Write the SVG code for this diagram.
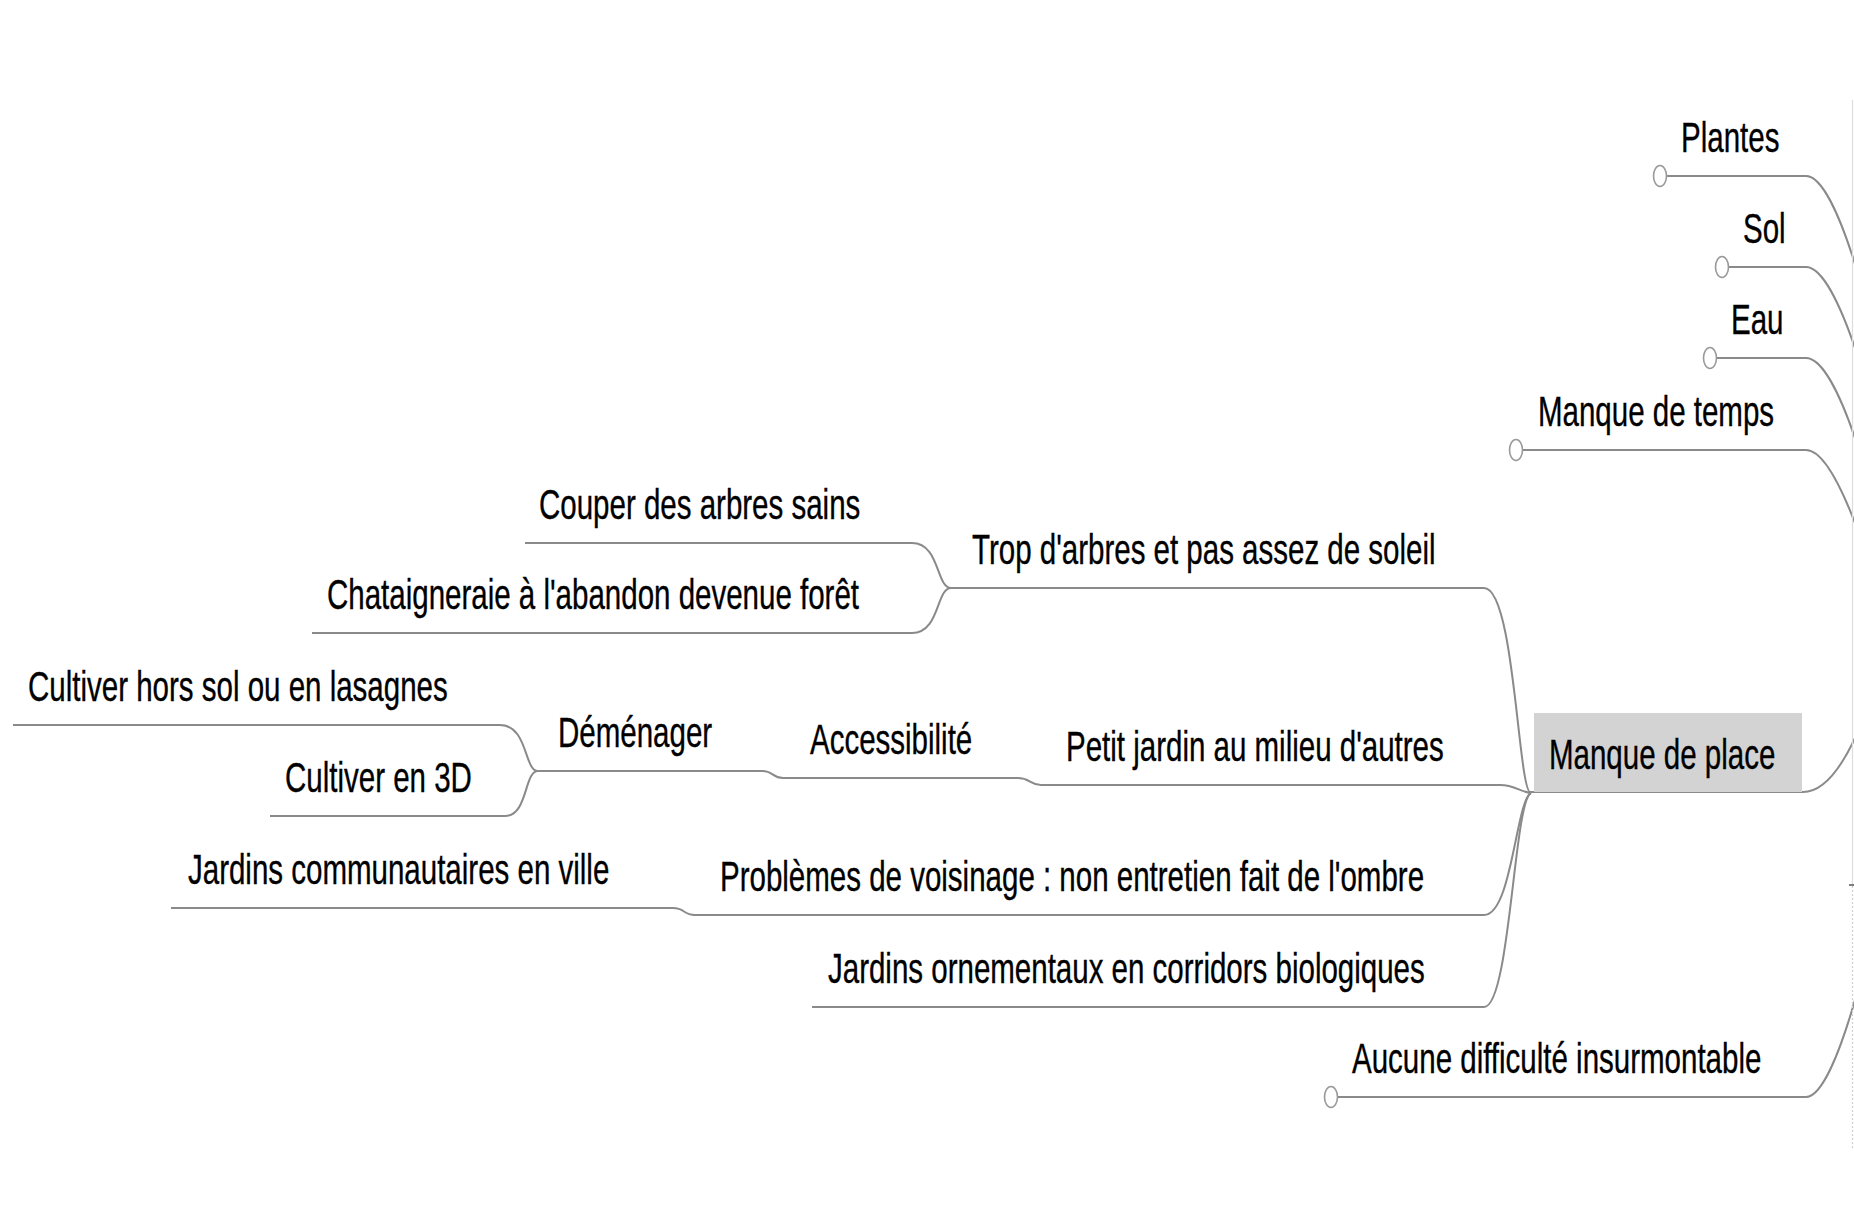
<svg xmlns="http://www.w3.org/2000/svg" width="1854" height="1223" viewBox="0 0 1854 1223">
<style>
  .t { font-family: "Liberation Sans", Arial, sans-serif; font-size: 29.5px; fill: #000; stroke: #000; stroke-width: 0.25; }
  .c { fill: none; stroke: #8a8a8a; stroke-width: 2; }
  .dot { fill: #fff; stroke: #999; stroke-width: 1.6; }
  .box { fill: #d3d3d3; }
</style>
<rect width="1854" height="1223" fill="#fff"/>

<g id="connectors">
  <path class="c" d="M1667 176 H1806 C1822 176 1840 216 1855 264"/>
  <path class="c" d="M1729 267 H1806 C1822 267 1840 304 1855 348"/>
  <path class="c" d="M1717 358 H1806 C1822 358 1840 394 1855 438"/>
  <path class="c" d="M1523 450 H1806 C1822 450 1840 484 1855 523"/>
  <path class="c" d="M1530 792 H1803 C1822 792 1840 770 1855 738"/>
  <path class="c" d="M1338 1097 H1806 C1822 1097 1840 1052 1855 1000"/>
  <path class="c" d="M951 588 H1484 C1515 588 1518 794 1531 793"/>
  <path class="c" d="M1041 785 H1500 C1515 785 1520 792 1531 793"/>
  <path class="c" d="M693 915 H1484 C1512 915 1516 800 1531 793"/>
  <path class="c" d="M812 1007 H1484 C1510 1007 1514 800 1531 793"/>
  <path class="c" d="M525 543 H912 C940 543 936 588 951 588"/>
  <path class="c" d="M312 633 H912 C940 633 936 588 951 588"/>
  <path class="c" d="M783 778 H1018 C1030 778 1030 785 1041 785"/>
  <path class="c" d="M538 771 H762 C774 771 772 778 783 778"/>
  <path class="c" d="M13 725 H500 C528 725 524 771 538 771"/>
  <path class="c" d="M270 816 H505 C528 816 524 771 538 771"/>
  <path class="c" d="M171 908 H673 C685 908 683 915 695 915"/>
</g>

<g id="edge">
  <line x1="1852.5" y1="100" x2="1852.5" y2="884" stroke="#dcdcdc" stroke-width="1.2"/>
  <line x1="1852.5" y1="886" x2="1852.5" y2="1150" stroke="#cfcfcf" stroke-width="1.2" stroke-dasharray="2 2"/>
  <line x1="1849" y1="885" x2="1854" y2="885" stroke="#555" stroke-width="1.5"/>
</g>

<g id="node-plantes">
  <ellipse class="dot" cx="1660" cy="176" rx="6.5" ry="10.5"/>
  <text class="t" transform="translate(1681 152) scale(1 1.47)">Plantes</text>
</g>
<g id="node-sol">
  <ellipse class="dot" cx="1722" cy="267" rx="6.5" ry="10.5"/>
  <text class="t" transform="translate(1743 243) scale(1 1.47)">Sol</text>
</g>
<g id="node-eau">
  <ellipse class="dot" cx="1710" cy="358" rx="6.5" ry="10.5"/>
  <text class="t" transform="translate(1731 334) scale(1 1.47)">Eau</text>
</g>
<g id="node-temps">
  <ellipse class="dot" cx="1516" cy="450" rx="6.5" ry="10.5"/>
  <text class="t" transform="translate(1538 426) scale(1 1.47)">Manque de temps</text>
</g>
<g id="node-place">
  <rect class="box" x="1534" y="713" width="268" height="79"/>
  <text class="t" transform="translate(1549 769) scale(1 1.47)">Manque de place</text>
</g>
<g id="node-aucune">
  <ellipse class="dot" cx="1331" cy="1097" rx="6.5" ry="10.5"/>
  <text class="t" transform="translate(1352 1073) scale(1 1.47)">Aucune difficulté insurmontable</text>
</g>

<g id="node-trop">
  <text class="t" transform="translate(972 564) scale(1 1.47)">Trop d'arbres et pas assez de soleil</text>
</g>
<g id="node-couper">
  <text class="t" transform="translate(539 519) scale(1 1.47)">Couper des arbres sains</text>
</g>
<g id="node-chataigneraie">
  <text class="t" transform="translate(327 609) scale(1 1.47)">Chataigneraie à l'abandon devenue forêt</text>
</g>
<g id="node-petit">
  <text class="t" transform="translate(1066 761) scale(1 1.47)">Petit jardin au milieu d'autres</text>
</g>
<g id="node-accessibilite">
  <text class="t" transform="translate(810 754) scale(1 1.47)">Accessibilité</text>
</g>
<g id="node-demenager">
  <text class="t" transform="translate(558 747) scale(1 1.47)">Déménager</text>
</g>
<g id="node-horssol">
  <text class="t" transform="translate(28 701) scale(1 1.47)">Cultiver hors sol ou en lasagnes</text>
</g>
<g id="node-3d">
  <text class="t" transform="translate(285 792) scale(1 1.47)">Cultiver en 3D</text>
</g>
<g id="node-problemes">
  <text class="t" transform="translate(720 891) scale(1 1.47)">Problèmes de voisinage : non entretien fait de l'ombre</text>
</g>
<g id="node-communautaires">
  <text class="t" transform="translate(188 884) scale(1 1.47)">Jardins communautaires en ville</text>
</g>
<g id="node-ornementaux">
  <text class="t" transform="translate(828 983) scale(1 1.47)">Jardins ornementaux en corridors biologiques</text>
</g>
</svg>
